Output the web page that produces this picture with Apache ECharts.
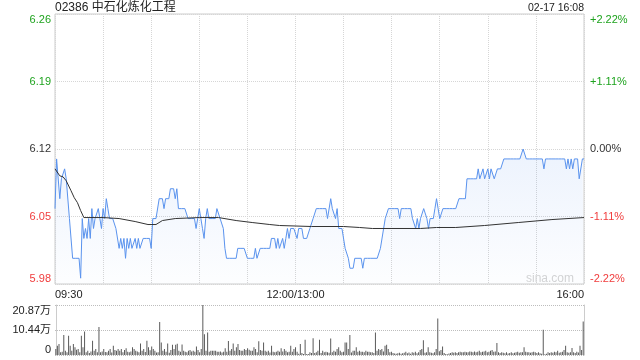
<!DOCTYPE html>
<html><head><meta charset="utf-8">
<script src="https://cdn.jsdelivr.net/npm/echarts@6/dist/echarts.min.js"></script>
<style>html,body{margin:0;padding:0;background:#fff}#c{width:640px;height:360px}</style>
</head><body><div id="c"></div>
<script>
const title = '02386 中石化炼化工程';
const stamp = '02-17 16:08';
const prevClose = 6.12;
const priceTicks = ['5.98','6.05','6.12','6.19','6.26'];
const pctTicks = ['-2.22%','-1.11%','0.00%','+1.11%','+2.22%'];
const volTicks = ['0','10.44万','20.87万'];
const xTickLabels = {0:'09:30',150:'12:00/13:00',330:'16:00'};

// minute-by-minute price, 09:30 .. 16:00 (lunch break removed)
const prices = [
6.06,6.11,6.11,6.07,6.09,6.09,6.10,6.09,6.09,6.05,
6.05,6.01,6.01,6.01,6.01,6.01,5.99,6.05,6.03,6.04,
6.03,6.05,6.03,6.06,6.04,6.05,6.05,6.06,6.05,6.04,
6.06,6.05,6.07,6.06,6.05,6.05,6.05,6.05,6.04,6.04,
6.02,6.03,6.02,6.03,6.01,6.03,6.02,6.03,6.02,6.02,
6.03,6.02,6.03,6.02,6.02,6.03,6.03,6.03,6.03,6.03,
6.02,6.05,6.05,6.05,6.05,6.07,6.07,6.07,6.06,6.07,
6.07,6.07,6.08,6.08,6.08,6.07,6.08,6.06,6.06,6.06,
6.06,6.06,6.06,6.05,6.05,6.05,6.05,6.05,6.04,6.05,
6.06,6.05,6.04,6.03,6.05,6.06,6.05,6.05,6.05,6.05,
6.05,6.06,6.06,6.05,6.05,6.04,6.02,6.01,6.01,6.01,
6.01,6.01,6.01,6.01,6.02,6.02,6.02,6.02,6.02,6.02,
6.01,6.01,6.01,6.01,6.01,6.02,6.01,6.01,6.02,6.02,
6.02,6.02,6.02,6.02,6.02,6.03,6.03,6.03,6.02,6.03,
6.02,6.02,6.03,6.02,6.03,6.04,6.03,6.04,6.04,6.04,
6.04,6.03,6.04,6.04,6.04,6.03,6.03,6.03,6.03,6.04,
6.04,6.05,6.05,6.06,6.06,6.06,6.06,6.06,6.06,6.06,
6.05,6.05,6.07,6.06,6.06,6.05,6.06,6.04,6.04,6.04,
6.04,6.02,6.02,6.01,6.00,6.00,6.00,6.01,6.01,6.01,
6.01,6.01,6.00,6.01,6.01,6.01,6.01,6.01,6.01,6.01,
6.01,6.01,6.01,6.02,6.02,6.04,6.05,6.05,6.06,6.06,
6.06,6.06,6.06,6.06,6.06,6.05,6.06,6.06,6.06,6.06,
6.06,6.06,6.06,6.05,6.05,6.04,6.05,6.04,6.05,6.05,
6.06,6.06,6.05,6.04,6.05,6.05,6.05,6.06,6.07,6.06,
6.05,6.05,6.06,6.06,6.06,6.06,6.06,6.06,6.06,6.06,
6.06,6.06,6.07,6.07,6.07,6.07,6.07,6.09,6.09,6.09,
6.09,6.09,6.09,6.09,6.10,6.09,6.09,6.10,6.09,6.09,
6.10,6.09,6.10,6.10,6.09,6.09,6.10,6.10,6.10,6.10,
6.11,6.11,6.11,6.11,6.11,6.11,6.11,6.11,6.11,6.11,
6.11,6.11,6.12,6.12,6.11,6.11,6.11,6.11,6.11,6.11,
6.11,6.11,6.11,6.11,6.11,6.10,6.11,6.11,6.11,6.11,
6.11,6.11,6.11,6.11,6.11,6.11,6.11,6.11,6.11,6.10,
6.11,6.10,6.11,6.10,6.11,6.11,6.11,6.09,6.09,6.11,
6.11
];

// average price line, read at selected minutes: [minute, price]
const avgPoints = [
[0,6.100],[3,6.093],[5,6.092],[7,6.088],[10,6.078],[12,6.071],[14,6.066],[16,6.058],[18,6.051],
[30,6.051],[40,6.050],[50,6.047],[58,6.044],[63,6.044],[67,6.048],[75,6.050],[90,6.051],
[102,6.051],[113,6.048],[123,6.046],[134,6.044],[140,6.043],[160,6.042],[180,6.042],
[190,6.041],[198,6.040],[228,6.040],[238,6.041],[250,6.041],[268,6.043],[289,6.046],
[310,6.049],[330,6.051]
];

// volume per minute, in 万 shares
const volumes = [
2.5,3.9,4.6,1.2,1.4,8.4,1.8,1.1,8.0,3.9,
1.8,4.6,3.2,2.2,2.5,1.2,8.0,3.2,9.8,1.1,
1.8,0.8,1.5,5.9,1.8,2.5,1.2,11.7,1.1,1.5,
2.5,1.3,1.1,1.8,2.5,1.0,3.9,2.1,1.8,2.5,
1.8,2.5,1.1,2.1,2.8,1.4,1.1,1.5,3.2,2.5,
1.8,1.5,1.2,4.8,1.8,2.5,1.3,5.9,3.2,2.0,
3.6,2.5,1.8,1.0,1.2,13.8,5.2,1.8,2.5,1.4,
4.8,0.9,2.1,4.3,2.5,4.3,4.7,1.8,1.4,4.4,
1.8,1.4,1.1,1.8,2.1,1.5,1.8,1.4,3.6,2.1,
1.2,2.5,20.87,8.7,1.8,9.4,1.4,1.8,1.8,1.8,
1.8,1.4,1.4,1.5,1.0,1.4,2.8,1.4,5.8,1.8,
2.5,4.8,1.8,3.2,4.6,2.1,1.8,1.8,2.5,2.1,
2.8,2.2,1.8,1.8,3.2,2.5,1.2,5.7,2.1,1.8,
5.2,1.8,1.4,1.8,1.0,3.9,1.4,1.1,1.4,1.8,
1.4,2.8,1.5,2.5,1.8,1.2,1.4,3.9,1.4,2.5,
3.2,1.4,0.5,4.6,0.8,0.4,6.4,0.4,0.4,1.1,
0.8,7.0,0.8,1.1,1.8,6.4,0.8,1.8,1.1,1.4,
1.1,0.9,6.9,1.1,1.8,1.4,2.5,3.2,1.8,1.2,
1.4,5.2,5.2,2.5,8.4,1.0,1.8,1.8,3.2,1.4,
1.8,1.4,1.4,1.1,1.8,1.4,1.4,1.1,1.1,0.8,
9.4,1.8,2.5,2.1,2.5,1.5,3.9,4.3,2.5,1.1,
1.4,0.8,0.6,0.5,0.7,0.9,0.5,0.7,0.9,1.4,
0.7,1.0,0.5,1.2,0.9,1.4,0.7,1.2,2.1,2.5,
6.2,0.9,1.1,3.2,1.2,0.9,0.7,1.1,2.5,15.2,
1.6,2.1,3.5,0.8,0.4,0.3,0.6,0.8,1.1,0.9,
1.2,0.8,1.2,1.4,1.1,1.2,1.4,1.1,1.2,1.5,
1.4,1.2,1.5,1.2,1.4,1.8,1.2,1.4,1.5,1.8,
1.2,1.4,1.8,2.1,1.4,1.5,5.0,1.2,0.8,1.1,
0.9,0.7,1.1,0.6,0.8,1.2,0.7,0.9,1.2,1.4,
0.9,1.1,1.2,3.2,1.4,1.1,1.2,0.9,1.2,1.4,
1.1,0.8,1.2,0.7,0.5,10.5,0.3,0.5,1.2,0.8,
1.1,0.9,1.4,1.2,1.8,0.9,1.1,1.4,2.1,3.9,
1.2,0.9,1.1,2.9,1.2,0.8,1.4,1.0,3.9,2.1,
14.0
];

const toPct = p => (p - prevClose) / prevClose * 100;
const FONT = '"Liberation Sans", Arial, "Noto Sans CJK SC", sans-serif';
const GREEN = '#1ea31e', RED = '#f03c3c', DARK = '#333';
const tickIdx = v => Math.round(v / 1.11) + 2;
const tickColor = v => { const i = tickIdx(v); return i > 2 ? GREEN : (i < 2 ? RED : DARK); };

const chart = echarts.init(document.getElementById('c'), null, {renderer: 'canvas'});
chart.setOption({
  animation: false,
  backgroundColor: '#fff',
  textStyle: {fontFamily: FONT},
  title: [
    {text: title, left: 50, top: -3, textStyle: {fontSize: 12, fontWeight: 'normal', color: '#222', fontFamily: FONT}},
    {text: stamp, right: 51, top: -2, textStyle: {fontSize: 10.5, fontWeight: 'normal', color: '#222', fontFamily: FONT}}
  ],
  graphic: [{type: 'text', right: 66, top: 273, style: {text: 'sina.com', fill: '#d4d4d4', fontSize: 12, fontFamily: FONT}}],
  grid: [
    {left: 55, right: 56, top: 14, height: 270, show: true, borderColor: '#cccccc', borderWidth: 1},
    {left: 55, right: 56, top: 305, height: 50}
  ],
  xAxis: [
    {type: 'value', gridIndex: 0, min: 0, max: 330, interval: 30,
     axisLine: {show: false}, axisTick: {show: false},
     splitLine: {show: true, lineStyle: {color: '#d6d6d6', type: 'dotted'}},
     axisLabel: {show: true, margin: 5, fontSize: 11, color: '#222', fontFamily: FONT,
       alignMinLabel: 'left', alignMaxLabel: 'right',
       formatter: v => xTickLabels[v] || ''}},
    {type: 'value', gridIndex: 1, min: -0.5, max: 330.5,
     axisLine: {show: false}, axisTick: {show: false}, axisLabel: {show: false}, splitLine: {show: false}}
  ],
  yAxis: [
    {type: 'value', gridIndex: 0, min: -2.22, max: 2.22, interval: 1.11, position: 'left',
     axisLine: {show: false}, axisTick: {show: false},
     splitLine: {show: true, lineStyle: {color: '#d6d6d6', type: 'dotted'}},
     axisLabel: {margin: 4, fontSize: 11, fontFamily: FONT, color: tickColor,
       verticalAlignMinLabel: 'bottom', verticalAlignMaxLabel: 'top',
       formatter: v => priceTicks[tickIdx(v)]}},
    {type: 'value', gridIndex: 0, min: -2.22, max: 2.22, interval: 1.11, position: 'right',
     axisLine: {show: false}, axisTick: {show: false}, splitLine: {show: false},
     axisLabel: {margin: 6, fontSize: 11, fontFamily: FONT, color: tickColor,
       verticalAlignMinLabel: 'bottom', verticalAlignMaxLabel: 'top',
       formatter: v => pctTicks[tickIdx(v)]}},
    {type: 'value', gridIndex: 1, min: 0, max: 20.87, interval: 10.435, position: 'left',
     axisLine: {show: true, lineStyle: {color: '#cccccc'}}, axisTick: {show: false},
     splitLine: {show: true, lineStyle: {color: '#bdbdbd', type: 'dotted'}},
     axisLabel: {margin: 4, fontSize: 11, color: '#222', fontFamily: FONT,
       verticalAlignMinLabel: 'bottom', verticalAlignMaxLabel: 'top',
       formatter: v => volTicks[Math.round(v / 10.435)]}},
    {type: 'value', gridIndex: 1, min: 0, max: 20.87, position: 'right',
     axisLine: {show: true, lineStyle: {color: '#cccccc'}}, axisTick: {show: false},
     axisLabel: {show: false}, splitLine: {show: false}}
  ],
  series: [
    {type: 'line', xAxisIndex: 0, yAxisIndex: 0, showSymbol: false, symbol: 'none',
     data: prices.map((p, i) => [i, toPct(p)]),
     lineStyle: {color: '#5a93ee', width: 1},
     areaStyle: {origin: 'start', color: new echarts.graphic.LinearGradient(0, 0, 0, 1, [
       {offset: 0, color: 'rgba(90,147,238,0.16)'}, {offset: 1, color: 'rgba(90,147,238,0.02)'}])}},
    {type: 'line', xAxisIndex: 0, yAxisIndex: 0, showSymbol: false, symbol: 'none',
     data: avgPoints.map(d => [d[0], toPct(d[1])]),
     lineStyle: {color: '#333', width: 1}},
    {type: 'bar', xAxisIndex: 1, yAxisIndex: 2, barWidth: 1,
     data: volumes.map((v, i) => [i, v]),
     itemStyle: {color: '#5a5a5a'}}
  ]
});
</script></body></html>
